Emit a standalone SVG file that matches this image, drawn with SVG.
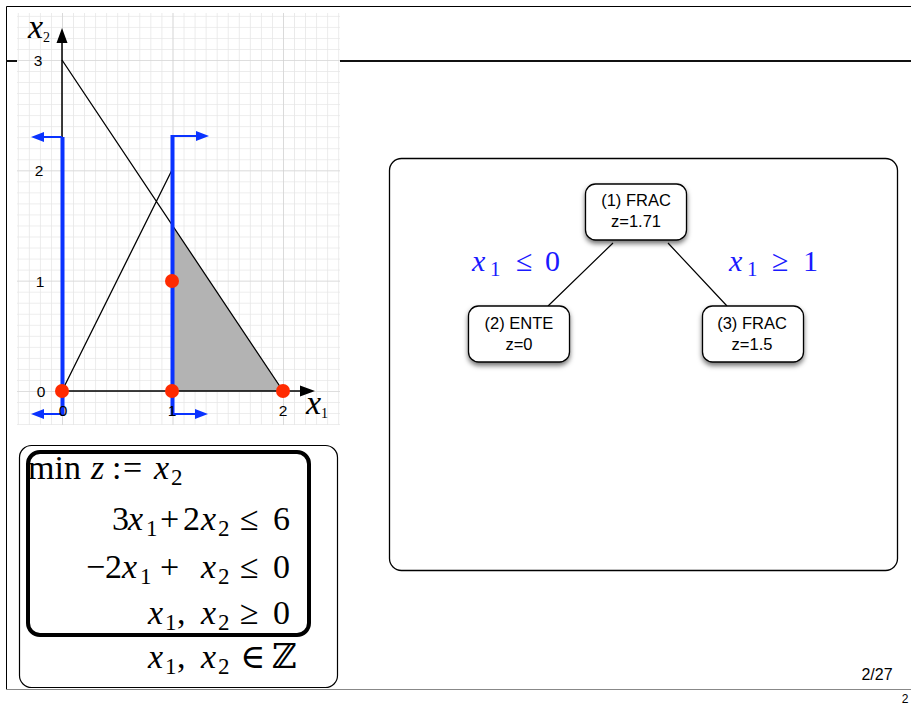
<svg xmlns="http://www.w3.org/2000/svg" width="911" height="706" viewBox="0 0 911 706">
<style>
.sans{font-family:"Liberation Sans",Arial,sans-serif;}
.num{font-family:"Liberation Sans",Arial,sans-serif;font-size:15.5px;text-anchor:middle;fill:#000;}
.math{font-family:"Liberation Serif","DejaVu Serif",serif;font-size:34px;fill:#000;}
.it{font-style:italic;}
.sb{font-size:23px;}
.node rect{fill:#fff;stroke:#000;stroke-width:1.3;filter:url(#sh);}
.node text{font-family:"Liberation Sans",Arial,sans-serif;font-size:16.5px;text-anchor:middle;fill:#000;}
.blue{stroke:#0a33ff;fill:none;}
.bh{fill:#0a33ff;}
.dot{fill:#ff2a00;}
.lbl{fill:#1a1aff;font-size:30px;}
.lbl .sb{font-size:21px;}
</style>
<defs>
<filter id="sh" x="-20%" y="-20%" width="140%" height="160%">
<feDropShadow dx="0" dy="3" stdDeviation="2.5" flood-color="#000" flood-opacity="0.55"/>
</filter>
<pattern id="fine" patternUnits="userSpaceOnUse" x="62" y="391" width="11.05" height="11.033">
<path d="M0 0V11.033M0 0H11.05" stroke="#e6e6e6" stroke-width="1.5" fill="none"/>
</pattern>
<pattern id="major" patternUnits="userSpaceOnUse" x="62" y="391" width="110.5" height="110.33">
<path d="M0 0V110.33M0 0H110.5" stroke="#cfcfcf" stroke-width="1.2" fill="none"/>
</pattern>
</defs>
<rect width="911" height="706" fill="#fff"/>
<!-- page frame -->
<g id="frame">
<path d="M6.5 689V6.5H911" stroke="#000" stroke-width="1" fill="none"/>
<path d="M6 61H911" stroke="#111" stroke-width="2"/>
<path d="M6 689.5H911" stroke="#888" stroke-width="1"/>
<text x="877" y="680" class="sans" font-size="16" text-anchor="middle">2/27</text>
<text x="905" y="703" class="sans" font-size="12" text-anchor="middle">2</text>
</g>
<!-- plot -->
<g id="plot">
<rect x="17" y="13" width="323" height="412" fill="#fff"/>
<rect x="17" y="13" width="323" height="412" fill="url(#fine)"/>
<rect x="17" y="13" width="323" height="412" fill="url(#major)"/>
<polygon points="172,225.5 283,391 172,391" fill="#b3b3b3"/>
<path d="M62 60L283 391M62 391L172 170" stroke="#000" stroke-width="1.3" fill="none"/>
<path d="M62 391V42M62 391H300" stroke="#000" stroke-width="1.5" fill="none"/>
<path d="M62 28L56.5 43H67.5Z M315 391L300 385.5V396.5Z" fill="#000"/>
<path class="blue" d="M62.5 137V416M172.5 135V416" stroke-width="4"/>
<path class="blue" d="M62 137H42M172 136H198M62 414H42M172 414H197" stroke-width="2"/>
<path class="bh" d="M31 137L44 132V142Z M209 136L196 131V141Z M31 414L44 409V419Z M208 414L195 409V419Z"/>
<circle class="dot" cx="62" cy="391" r="7"/>
<circle class="dot" cx="172" cy="281" r="7"/>
<circle class="dot" cx="172" cy="391" r="7"/>
<circle class="dot" cx="283" cy="391" r="7"/>
<text class="num" x="38" y="66">3</text>
<text class="num" x="39" y="176">2</text>
<text class="num" x="40" y="287">1</text>
<text class="num" x="41" y="397">0</text>
<text class="num" x="63" y="416">0</text>
<text class="num" x="172" y="416">1</text>
<text class="num" x="283" y="416">2</text>
<text class="math" font-size="20" x="28" y="38"><tspan class="it">x</tspan><tspan font-size="14" dy="4">2</tspan></text>
<text class="math" font-size="20" x="306" y="414"><tspan class="it">x</tspan><tspan font-size="14" dy="4">1</tspan></text>
</g>
<!-- formula box -->
<g id="formula">
<rect x="19.5" y="445.5" width="318" height="242" rx="12" fill="#fff" stroke="#000" stroke-width="1.2"/>
<rect x="28" y="452" width="281" height="183" rx="12" fill="none" stroke="#000" stroke-width="4"/>
<text class="math"><tspan x="28" y="479">min</tspan><tspan class="it" x="91" y="479">z</tspan><tspan x="112" y="479">:</tspan><tspan x="123" y="479">=</tspan><tspan class="it" x="154" y="479">x</tspan><tspan class="sb" x="171" y="485">2</tspan></text>
<text class="math"><tspan x="112" y="530">3</tspan><tspan class="it" x="128" y="530">x</tspan><tspan class="sb" x="146" y="536">1</tspan><tspan x="160" y="530">+</tspan><tspan x="183" y="530">2</tspan><tspan class="it" x="201" y="530">x</tspan><tspan class="sb" x="218" y="536">2</tspan><tspan x="240" y="530">≤</tspan><tspan x="273" y="530">6</tspan></text>
<text class="math"><tspan x="86" y="578">−</tspan><tspan x="105" y="578">2</tspan><tspan class="it" x="122" y="578">x</tspan><tspan class="sb" x="140" y="584">1</tspan><tspan x="160" y="578">+</tspan><tspan class="it" x="201" y="578">x</tspan><tspan class="sb" x="218" y="584">2</tspan><tspan x="240" y="578">≤</tspan><tspan x="273" y="578">0</tspan></text>
<text class="math"><tspan class="it" x="148" y="624">x</tspan><tspan class="sb" x="165" y="630">1</tspan><tspan x="177" y="624">,</tspan><tspan class="it" x="201" y="624">x</tspan><tspan class="sb" x="218" y="630">2</tspan><tspan x="240" y="624">≥</tspan><tspan x="273" y="624">0</tspan></text>
<text class="math"><tspan class="it" x="148" y="668">x</tspan><tspan class="sb" x="165" y="674">1</tspan><tspan x="177" y="668">,</tspan><tspan class="it" x="201" y="668">x</tspan><tspan class="sb" x="218" y="674">2</tspan><tspan x="240" y="668">∈</tspan><tspan x="272" y="668">ℤ</tspan></text>
</g>
<!-- tree panel -->
<g id="panel">
<rect x="389.5" y="158.5" width="508" height="412" rx="12" fill="#fff" stroke="#000" stroke-width="1.3"/>
</g>
<g id="connectors">
<path d="M613 243L548 306M668 243L727 306" stroke="#000" stroke-width="1.2" fill="none"/>
<text class="math lbl"><tspan class="it" x="472" y="271">x</tspan><tspan class="sb" x="490" y="276">1</tspan><tspan x="516" y="271">≤</tspan><tspan x="545" y="271">0</tspan></text>
<text class="math lbl"><tspan class="it" x="729" y="271">x</tspan><tspan class="sb" x="747" y="276">1</tspan><tspan x="772" y="271">≥</tspan><tspan x="803" y="271">1</tspan></text>
</g>
<g id="n1" class="node">
<rect x="585.5" y="184" width="101" height="56" rx="10"/>
<text x="636" y="206">(1) FRAC</text>
<text x="636" y="227">z=1.71</text>
</g>
<g id="n2" class="node">
<rect x="468.5" y="306" width="101" height="56" rx="10"/>
<text x="519" y="329">(2) ENTE</text>
<text x="519" y="350">z=0</text>
</g>
<g id="n3" class="node">
<rect x="702.5" y="306" width="101" height="56" rx="10"/>
<text x="752" y="329">(3) FRAC</text>
<text x="752" y="350">z=1.5</text>
</g>
</svg>
